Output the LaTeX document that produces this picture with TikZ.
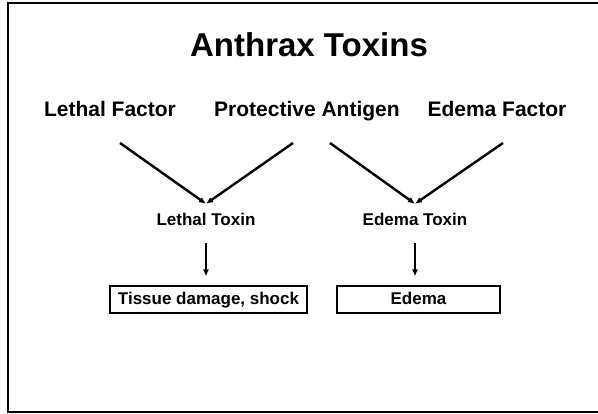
\documentclass[tikz,border=0pt]{standalone}
\usepackage{fontspec}
\setmainfont{Liberation Sans}
\usetikzlibrary{arrows.meta,positioning}
\tikzset{
  ttl/.style={font=\fontsize{33}{36}\selectfont\bfseries,anchor=base},
  comp/.style={font=\fontsize{21}{24}\selectfont\bfseries,inner sep=0pt,anchor=base},
  tox/.style={font=\fontsize{17}{20}\selectfont\bfseries,text height=12pt,text depth=0pt,minimum height=32pt,inner sep=0pt},
  res/.style={draw,line width=1.1pt,font=\fontsize{17}{20}\selectfont\bfseries,text height=14pt,text depth=3pt,minimum height=27pt,inner sep=0pt},
  arr/.style={-{Latex[length=7pt,width=6pt]},line width=2.4pt},
  darr/.style={-{Latex[length=7pt,width=6pt]},line width=2.2pt},
}

\begin{document}
\begin{tikzpicture}[x=1pt,y=-1pt]
  \useasboundingbox (0,0) rectangle (598,414);
  \draw[line width=1.3pt] (598,3) -- (8,3) -- (8,412) -- (598,412);
  \node[ttl] (title) at (309,57) {Anthrax Toxins};
  \node[comp] (lf) at (110,117) {Lethal Factor};
  \node[comp] (pa) at (307,117) {Protective Antigen};
  \node[comp] (ef) at (497,117) {Edema Factor};
  \node[tox] (lt) at (206,220) {Lethal Toxin};
  \node[tox] (et) at (415,220) {Edema Toxin};
  \node[res,minimum width=197pt] (td) at (208.5,299.5) {Tissue damage, shock};
  \node[res,minimum width=163pt] (ed) at (418.5,299.5) {Edema};
  \coordinate (lfs) at (120,143);
  \coordinate (pal) at (293,143);
  \coordinate (par) at (330,143);
  \coordinate (efs) at (503,143);
  \foreach \a/\b in {lfs/lt,pal/lt,par/et,efs/et}{\draw[arr] (\a) -- (\b.north);}
  \draw[darr,shorten <=7pt,shorten >=9pt] (lt.south) -- (lt.south |- td.north);
  \draw[darr,shorten <=7pt,shorten >=9pt] (et.south) -- (et.south |- ed.north);
\end{tikzpicture}
\end{document}
